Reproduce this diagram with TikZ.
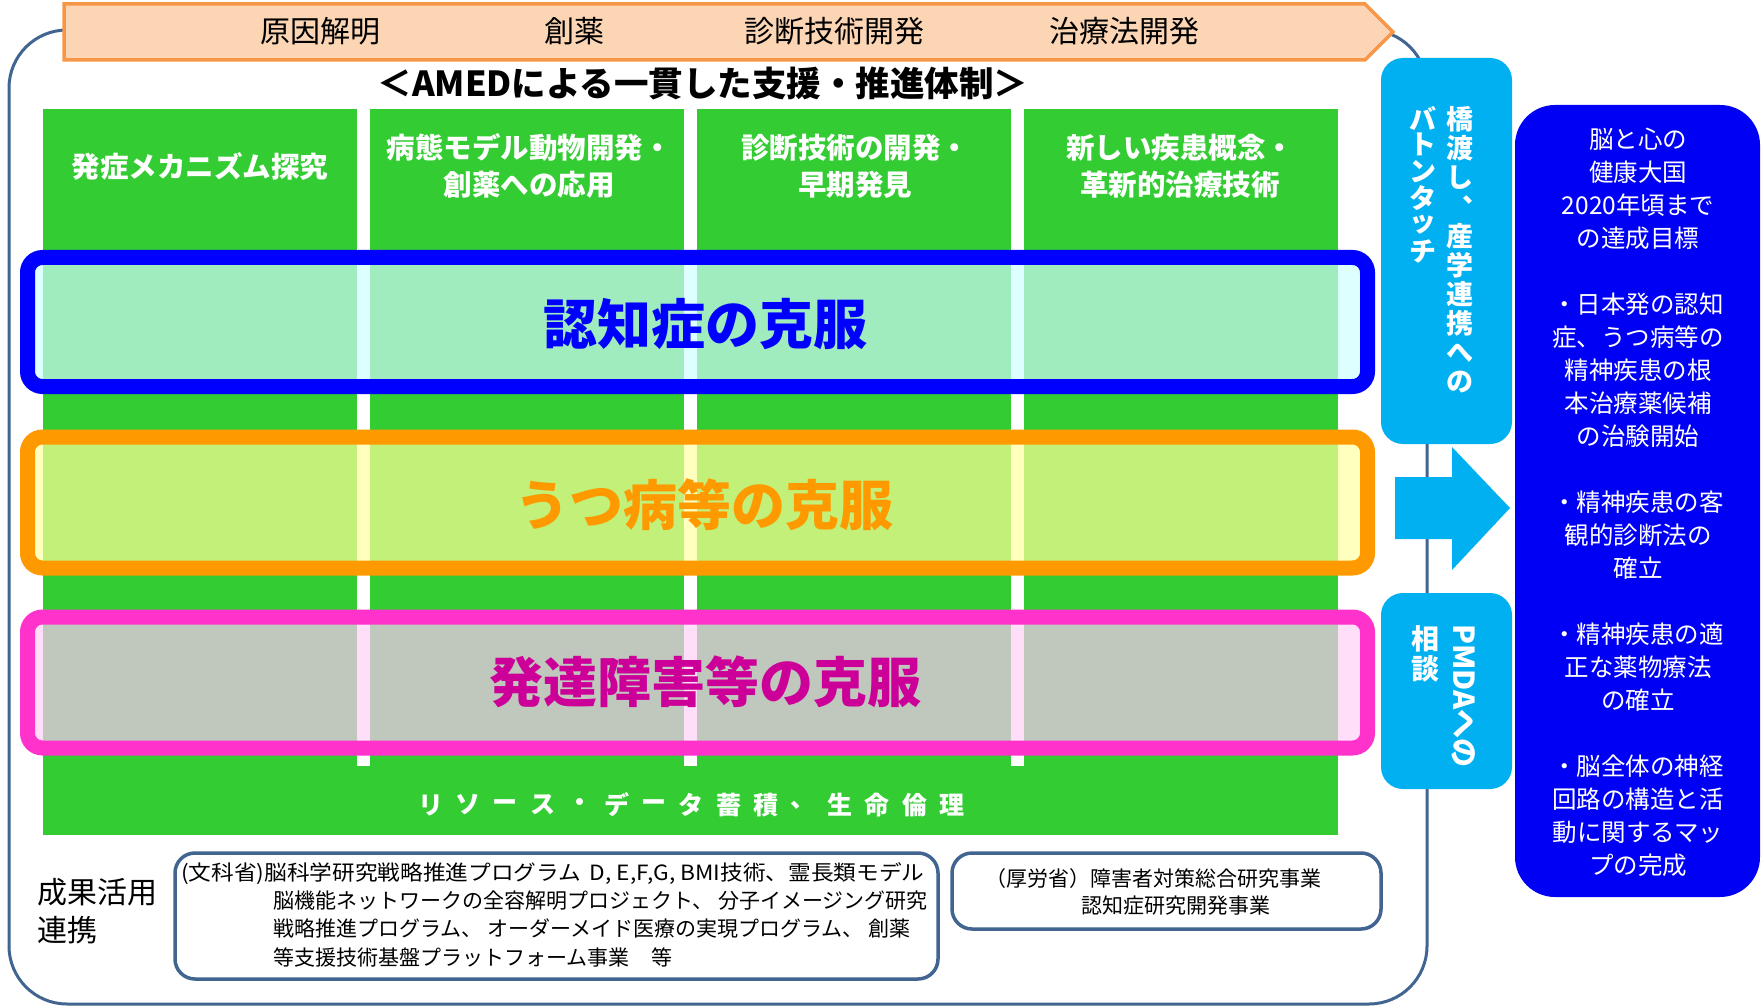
\documentclass[tikz,border=0pt]{standalone}
\usepackage{fontspec}
\setmainfont{Noto Sans CJK JP}
\definecolor{steel}{RGB}{65,100,145}
\definecolor{peach}{RGB}{252,213,181}
\definecolor{peachline}{RGB}{247,150,70}
\definecolor{grn}{RGB}{51,204,51}
\definecolor{ltblue}{RGB}{0,176,240}
\definecolor{dkblue}{RGB}{0,0,245}
\definecolor{bandblue}{RGB}{0,0,255}
\definecolor{bandorange}{RGB}{255,153,0}
\definecolor{bandpink}{RGB}{255,51,204}
\definecolor{txtpink}{RGB}{204,0,153}
\definecolor{bwhite}{RGB}{222,255,255}
\definecolor{bgreen}{RGB}{160,236,190}
\definecolor{owhite}{RGB}{255,255,190}
\definecolor{ogreen}{RGB}{194,240,120}
\definecolor{pwhite}{RGB}{255,222,250}
\definecolor{pgreen}{RGB}{192,199,189}
\newcommand\fsz[2]{\fontsize{#1}{#2}\selectfont}
\begin{document}
\begin{tikzpicture}[x=1pt,y=-1pt,
  every node/.style={inner sep=0pt, outer sep=0pt},
  bannertext/.style={font=\fsz{30}{36}},
  titletext/.style={font=\fsz{34.5}{40}\bfseries},
  hdrtext/.style={text=white, align=center, font=\fsz{28.5}{37}\bfseries},
  bandtext/.style={font=\fsz{54}{60}\bfseries},
  bandline/.style={line width=15pt, rounded corners=15pt},
  lbbox/.style={fill=ltblue, rounded corners=22pt},
  vtext/.style={text=white, font=\fsz{27}{30}\bfseries},
  goaltext/.style={text=white, align=center, font=\fsz{24.5}{33}},
  progbox/.style={draw=steel, line width=3.5pt, rounded corners=20pt},
  progtext/.style={font=\fsz{21}{26}, anchor=west},
  resource/.style={text=white, font=\fsz{25}{30}\bfseries}
]
\useasboundingbox (0,0) rectangle (1764,1008);

% outer frame
\draw[steel, line width=3pt, rounded corners=58pt] (9,30) rectangle (1427,1004);

% banner
\draw[fill=peach, draw=peachline, line width=3.5pt, line join=miter]
  (64,4) -- (1365,4) -- (1393,32) -- (1365,60) -- (64,60) -- cycle;
\node[bannertext] (b1) at (320,31) {原因解明};
\node[bannertext] (b2) at (574,31) {創薬};
\node[bannertext] (b3) at (834,31) {診断技術開発};
\node[bannertext] (b4) at (1124,31) {治療法開発};

\node[titletext] (title) at (703,83) {＜AMEDによる一貫した支援・推進体制＞};

% green columns
\fill[grn] (43,109) rectangle (357,767);
\fill[grn] (370,109) rectangle (684,767);
\fill[grn] (697,109) rectangle (1011,767);
\fill[grn] (1024,109) rectangle (1338,767);
\fill[grn] (43,766) rectangle (1338,835);

\node[hdrtext] (h1) at (200,166) {発症メカニズム探究};
\node[hdrtext] (h2) at (529,166) {病態モデル動物開発・\\創薬への応用};
\node[hdrtext] (h3) at (855,166) {診断技術の開発・\\早期発見};
\node[hdrtext] (h4) at (1180,166) {新しい疾患概念・\\革新的治療技術};

% bands
\foreach \ya/\yb/\cw/\cg/\cl in {257.5/386.5/bwhite/bgreen/bandblue, 437/568/owhite/ogreen/bandorange, 617/748/pwhite/pgreen/bandpink}{
  \fill[\cw, rounded corners=15pt] (27.5,\ya) rectangle (1367.5,\yb);
  \fill[\cg] (43,\ya) rectangle (357,\yb);
  \fill[\cg] (370,\ya) rectangle (684,\yb);
  \fill[\cg] (697,\ya) rectangle (1011,\yb);
  \fill[\cg] (1024,\ya) rectangle (1338,\yb);
  \draw[\cl, bandline] (27.5,\ya) rectangle (1367.5,\yb);
}
\node[bandtext, text=bandblue] (t1) at (705,324) {認知症の克服};
\node[bandtext, text=bandorange] (t2) at (704,505) {うつ病等の克服};
\node[bandtext, text=txtpink] (t3) at (705,682) {発達障害等の克服};

% resource band text
\foreach \c [count=\i from 0] in {リ,ソ,ー,ス,・,デ,ー,タ,蓄,積,、,生,命,倫,理}{
  \node[resource] (r\i) at ({431+37.2*\i},805) {\c};
}

% right light-blue boxes
\node[lbbox, minimum width=131pt, minimum height=386pt] (bridge) at (1446.5,251) {};
\node[lbbox, minimum width=131pt, minimum height=196pt] (pmda) at (1446.5,691) {};

\foreach \c [count=\i from 0] in {橋,渡,し,︑,産,学,連,携,へ,の}{
  \node[vtext] (va\i) at (1460,{119+29.2*\i}) {\c};
}
\foreach \c [count=\i from 0] in {バ,ト,ン,タ,ッ,チ}{
  \node[vtext] (vb\i) at (1423,{118+26.6*\i}) {\c};
}
\node[vtext, font=\fsz{29}{32}\bfseries, rotate=-90] (pm1) at (1464,696) {PMDAへの};
\node[vtext, font=\fsz{28}{32}\bfseries] (pm2) at (1425,639) {相};
\node[vtext, font=\fsz{28}{32}\bfseries] (pm3) at (1425,669) {談};

% big arrow
\fill[ltblue] (1395,477) -- (1452,477) -- (1452,447) -- (1510,508) -- (1452,570) -- (1452,539) -- (1395,539) -- cycle;

% goal box
\node[fill=dkblue, rounded corners=40pt, minimum width=245pt, minimum height=792pt] (goalbox) at (1637.5,501) {};
\node[goaltext] (goal) at (1638,502.5) {脳と心の\\健康大国\\2020年頃まで\\の達成目標\\[33pt]・日本発の認知\\症、うつ病等の\\精神疾患の根\\本治療薬候補\\の治験開始\\[33pt]・精神疾患の客\\観的診断法の\\確立\\[33pt]・精神疾患の適\\正な薬物療法\\の確立\\[33pt]・脳全体の神経\\回路の構造と活\\動に関するマッ\\プの完成};

% bottom
\node[align=left, anchor=west, font=\fsz{30}{38}] (seika) at (37,911) {成果活用\\連携};

\node[progbox, minimum width=763pt, minimum height=126pt] (mext) at (556.5,916) {};
\node[progtext, xscale=1.08, transform shape] (m1) at (181,874) {(文科省)脳科学研究戦略推進プログラム\hspace{8pt}D, E,F,G, BMI技術、霊長類モデル};
\node[progtext] (m2) at (273,901) {脳機能ネットワークの全容解明プロジェクト、 分子イメージング研究};
\node[progtext] (m3) at (273,929) {戦略推進プログラム、 オーダーメイド医療の実現プログラム、 創薬};
\node[progtext] (m4) at (273,957) {等支援技術基盤プラットフォーム事業\hspace{22pt}等};

\node[progbox, minimum width=429pt, minimum height=76pt] (mhlw) at (1166.5,891) {};
\node[font=\fsz{21}{26}] (w1) at (1153.5,879) {（厚労省）障害者対策総合研究事業};
\node[font=\fsz{21}{26}] (w2) at (1176,906) {認知症研究開発事業};
\end{tikzpicture}
\end{document}
